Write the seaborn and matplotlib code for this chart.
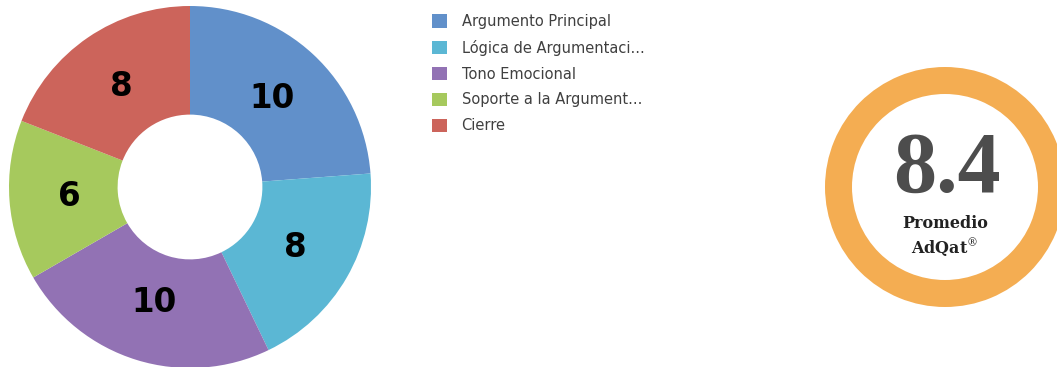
import matplotlib
matplotlib.use("Agg")
import matplotlib.pyplot as plt
from matplotlib.patches import Patch
import seaborn as sns

# Scores per rubric criterion
categories = ["Argumento Principal", "Lógica de Argumentaci...", "Tono Emocional",
              "Soporte a la Argument...", "Cierre"]
scores = [10, 8, 10, 6, 8]
colors = ["#6190CA", "#5BB7D4", "#9272B4", "#A6C95D", "#CC645B"]

# Overall average shown in the badge
average = 8.4
badge_lines = ["Promedio", r"AdQat$^{\circledR}$"]
badge_color = "#F4AD52"

sns.set_theme(style="white")
plt.rcParams["font.family"] = ["DejaVu Sans"]
plt.rcParams["mathtext.fontset"] = "dejavuserif"

W, H = 1057, 367
fig = plt.figure(figsize=(W / 100, H / 100), dpi=100)
fig.patch.set_facecolor("white")

# Donut chart of the criterion scores
ax = fig.add_axes([(190 - 181) / W, (H - 187 - 181) / H, 362 / W, 362 / H])
total = sum(scores)
wedges, _, autotexts = ax.pie(
    scores,
    colors=sns.color_palette(colors),
    startangle=90,
    counterclock=False,
    radius=1.0,
    wedgeprops=dict(width=0.6, edgecolor="none"),
    autopct=lambda p: f"{round(p * total / 100):d}",
    pctdistance=0.67,
)
for t in autotexts:
    t.set_fontsize(23.5)
    t.set_fontweight("bold")
    t.set_color("black")
ax.set_xlim(-1, 1)
ax.set_ylim(-1, 1)
ax.set_aspect("equal")
ax.axis("off")

# Legend
handles = [Patch(facecolor=c, edgecolor="none") for c in colors]
leg = fig.legend(
    handles, categories,
    loc="upper left",
    bbox_to_anchor=(432 / W, 1 - 14 / H),
    frameon=False,
    fontsize=10.5,
    handlelength=1.03,
    handleheight=1.03,
    handletextpad=1.0,
    labelspacing=0.74,
    borderpad=0,
    borderaxespad=0,
)
for txt in leg.get_texts():
    txt.set_color("#404040")

# Average badge: orange ring with the score inside
bx = fig.add_axes([(945 - 120) / W, (H - 187 - 120) / H, 240 / W, 240 / H])
bx.pie([1], colors=[badge_color], radius=1.0,
       wedgeprops=dict(width=27 / 120, edgecolor="none"))
bx.set_xlim(-1, 1)
bx.set_ylim(-1, 1)
bx.set_aspect("equal")
bx.axis("off")
bx.text(0.02, 0.13, f"{average:.1f}", ha="center", va="center",
        fontsize=62, fontweight="bold", family="Liberation Serif", color="#4D4D4D")
bx.text(0, -0.30, badge_lines[0], ha="center", va="center",
        fontsize=11.5, fontweight="bold", family="DejaVu Serif", color="#222222")
bx.text(0, -0.51, badge_lines[1], ha="center", va="center",
        fontsize=11.5, fontweight="bold", family="DejaVu Serif", color="#222222")

fig.savefig("out.png", dpi=100, facecolor="white")
